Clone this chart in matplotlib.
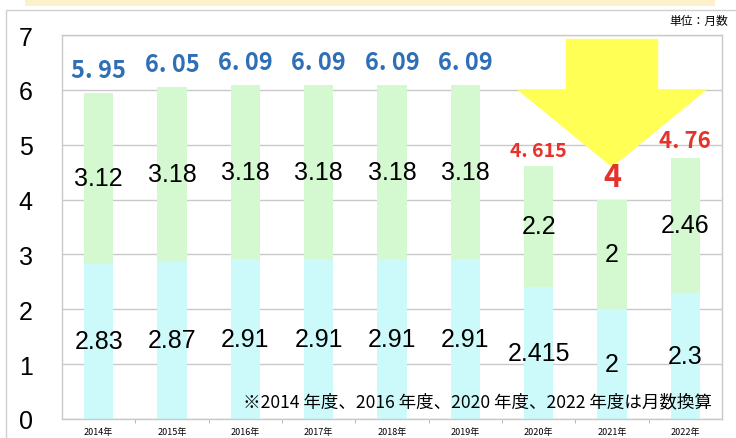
import matplotlib
matplotlib.use("Agg")
import matplotlib.pyplot as plt
from matplotlib.patches import Polygon, Rectangle

plt.rcParams['font.family'] = ['Noto Sans CJK JP', 'DejaVu Sans']

years = ["2014年", "2015年", "2016年", "2017年", "2018年", "2019年", "2020年", "2021年", "2022年"]
lower = [2.83, 2.87, 2.91, 2.91, 2.91, 2.91, 2.415, 2, 2.3]
upper = [3.12, 3.18, 3.18, 3.18, 3.18, 3.18, 2.2, 2, 2.46]
totals = [5.95, 6.05, 6.09, 6.09, 6.09, 6.09, 4.615, 4, 4.76]
total_colors = ["blue"] * 6 + ["red"] * 3
yticks = [0, 1, 2, 3, 4, 5, 6, 7]

C_LOW = "#CCFAFA"
C_UP = "#D4F8D0"
C_BLUE = "#2F6FB6"
C_RED = "#E5322B"
C_GRID = "#C9C9C9"

fig = plt.figure(figsize=(7.36, 4.39), dpi=100)
# outer frame and banner
fig.patches.append(Rectangle((6/736, -0.05), 1.0, (439-11)/439 + 0.05, transform=fig.transFigure,
                             fill=False, edgecolor="#CFCFCF", linewidth=1.0))
fig.patches.append(Rectangle((25/736, 1 - 7/439), 690/736, 7/439, transform=fig.transFigure,
                             facecolor="#FDF1CC", edgecolor="none"))

ax = fig.add_axes([62/736, 19/439, 660/736, 384/439])
x = list(range(len(years)))
w = 0.40
ax.bar(x, lower, width=w, color=C_LOW, zorder=2)
ax.bar(x, upper, width=w, bottom=lower, color=C_UP, zorder=2)

ax.set_xlim(-0.5, len(years) - 0.5)
ax.set_ylim(0, 7)
ax.set_yticks(yticks)
ax.set_yticklabels([str(t) for t in yticks], fontsize=18, family=['Liberation Sans', 'DejaVu Sans'])
ax.tick_params(axis='y', length=0, pad=21)
ax.set_xticks(x)
ax.set_xticklabels(years, fontsize=6.5)
ax.tick_params(axis='x', length=0, pad=6)
ax.set_xticks([i + 0.5 for i in x[:-1]], minor=True)
ax.tick_params(axis='x', which='minor', length=3, color="#AAAAAA", direction='out')
ax.grid(axis='y', color=C_GRID, linewidth=1.0, zorder=1)
for s in ax.spines.values():
    s.set_color(C_GRID)
    s.set_linewidth(1.0)

# yellow arrow (annotation)
xc = 7
arrow = Polygon([(xc - 0.63, 6.93), (xc + 0.63, 6.93), (xc + 0.63, 6.01), (xc + 1.30, 6.01),
                 (xc, 4.59), (xc - 1.30, 6.01), (xc - 0.63, 6.01)],
                closed=True, facecolor="#FFFF55", edgecolor="none", zorder=3)
ax.add_patch(arrow)

lab_font = ['Liberation Sans', 'DejaVu Sans']
for i in x:
    ax.text(i, lower[i] / 2, f"{lower[i]:g}", ha='center', va='center', fontsize=18,
            family=lab_font, zorder=5)
    ax.text(i, lower[i] + upper[i] / 2, f"{upper[i]:g}", ha='center', va='center', fontsize=18,
            family=lab_font, zorder=5)
    t = f"{totals[i]:g}"
    if total_colors[i] == "blue":
        ax.text(i, totals[i] + 0.2, t.replace('.', '. '), ha='center', va='bottom', fontsize=17,
                fontweight='bold', color=C_BLUE, zorder=5)
    elif '.' in t:
        ax.text(i, totals[i] + 0.1, t.replace('.', '. '), ha='center', va='bottom',
                fontsize=14 if len(t) > 4 else 16,
                fontweight='bold', color=C_RED, zorder=5)
    else:
        ax.text(i, totals[i] + 0.12, t, ha='center', va='bottom', fontsize=22,
                fontweight='bold', color=C_RED, zorder=5)

fig.text(728/736, 1 - 21/439, "単位：月数", ha='right', va='center', fontsize=8.5)
ax.text(0.985, 0.045, "※2014 年度、2016 年度、2020 年度、2022 年度は月数換算",
        transform=ax.transAxes, ha='right', va='center', fontsize=12.6, zorder=6)

fig.savefig("out.png", dpi=100)
